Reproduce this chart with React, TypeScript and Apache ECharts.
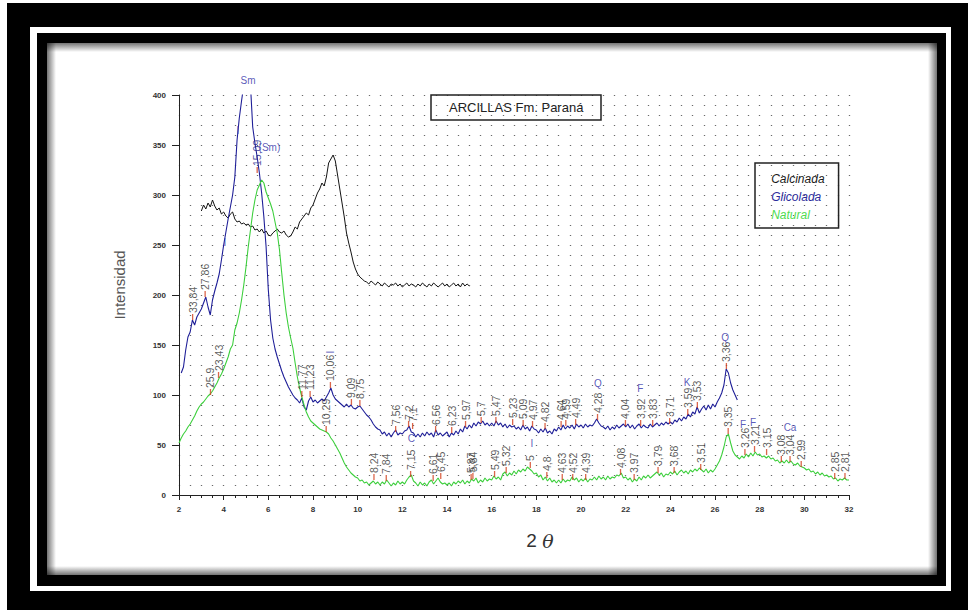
import React, { useEffect, useRef } from 'react';
import * as echarts from 'echarts';

// 2θ scan step and start of each diffractogram
const STEP = 0.1;
const CALCINADA_START = 3.0;
const GLICOLADA_START = 2.1;
const NATURAL_START = 2.0;

// Calcinada (black), 3.0 .. 15.0
const calcinada = [
  284, 290, 286, 292, 288, 295, 289, 285, 287, 281,
  283, 279, 277, 281, 283, 276, 273, 274, 271, 272,
  270, 271, 268, 269, 265, 266, 263, 266, 262, 264,
  260, 259, 262, 264, 266, 263, 262, 264, 260, 258,
  259, 263, 268, 266, 273, 276, 279, 282, 280, 287,
  290, 296, 302, 306, 312, 309, 318, 332, 336, 340,
  334, 320, 306, 292, 278, 262, 252, 243, 233, 226,
  221, 218, 216, 214, 213, 211, 214, 212, 210, 213,
  211, 209, 212, 210, 208, 211, 210, 212, 209, 211,
  208, 210, 212, 209, 211, 210, 208, 211, 209, 212,
  210, 208, 211, 209, 212, 210, 208, 210, 212, 209,
  211, 208, 210, 212, 209, 211, 208, 212, 209, 211,
  209,
];

// Glicolada (blue), 2.1 .. 27.0
const glicolada = [
  122, 128, 145, 158, 163, 175, 170, 178, 182,
  186, 192, 198, 188, 180, 195, 204, 212, 221, 235,
  250, 263, 276, 288, 300, 318, 355, 377, 394, 410,
  420, 418, 410, 368, 352, 338, 322, 302, 278, 248,
  205, 175, 157, 146, 138, 131, 124, 118, 113, 108,
  104, 100, 97, 95, 92, 97, 88, 85, 94, 98,
  93, 95, 92, 94, 96, 94, 98, 102, 107, 100,
  96, 94, 92, 90, 88, 91, 88, 90, 87, 86,
  88, 89, 86, 83, 80, 78, 75, 71, 68, 66,
  65, 61, 63, 59, 62, 58, 62, 65, 60, 62,
  61, 64, 65, 69, 63, 62, 58, 61, 58, 62,
  59, 63, 60, 62, 58, 65, 60, 62, 59, 61,
  63, 58, 62, 60, 64, 61, 66, 63, 69, 66,
  70, 67, 72, 69, 73, 71, 74, 70, 72, 69,
  72, 69, 74, 70, 72, 68, 71, 67, 70, 68,
  69, 66, 68, 65, 70, 66, 68, 64, 69, 66,
  65, 62, 66, 63, 67, 62, 64, 61, 66, 64,
  68, 65, 70, 66, 69, 67, 70, 66, 71, 68,
  70, 67, 71, 68, 70, 69, 72, 76, 72, 69,
  68, 66, 69, 65, 68, 66, 70, 67, 69, 71,
  68, 71, 67, 70, 66, 69, 71, 67, 70, 68,
  67, 71, 68, 70, 72, 69, 72, 70, 73, 71,
  73, 71, 75, 73, 77, 74, 78, 76, 81, 78,
  83, 81, 88, 82, 86, 89, 85, 90, 86, 91,
  88, 93, 97, 102, 110, 126, 122, 112, 105, 100,
  95,
];

// Natural (green), 2.0 .. 32.0
const natural = [
  52, 57, 61, 64, 68, 71, 75, 79, 84, 88,
  91, 93, 96, 99, 101, 104, 108, 112, 117, 121,
  126, 132, 138, 146, 150, 165, 172, 182, 195, 210,
  228, 248, 265, 282, 295, 305, 310, 315, 312, 303,
  297, 291, 284, 273, 262, 245, 222, 200, 182, 168,
  157, 147, 132, 118, 107, 98, 90, 83, 78, 74,
  72, 70, 68, 66, 65, 64, 63, 61, 57, 54,
  50, 46, 42, 37, 32, 28, 25, 22, 20, 18,
  17, 14, 15, 12, 13, 10, 12, 14, 11, 13,
  10, 13, 11, 15, 12, 9, 12, 10, 14, 11,
  13, 11, 15, 18, 20, 14, 12, 9, 13, 10,
  12, 9, 13, 15, 11, 14, 17, 13, 11, 12,
  10, 12, 9, 13, 11, 14, 12, 15, 11, 14,
  12, 16, 14, 17, 12, 15, 13, 17, 14, 16,
  15, 19, 16, 18, 15, 21, 23, 19, 22, 20,
  24, 21, 25, 23, 26, 24, 28, 26, 24, 21,
  22, 18, 20, 15, 18, 14, 17, 13, 15, 12,
  15, 12, 16, 13, 15, 14, 18, 15, 17, 13,
  16, 14, 17, 13, 16, 15, 18, 15, 19, 16,
  18, 15, 19, 16, 18, 17, 20, 19, 22, 17,
  18, 15, 17, 13, 16, 14, 18, 15, 19, 17,
  20, 17, 19, 21, 23, 20, 22, 18, 21, 20,
  23, 21, 24, 20, 23, 25, 22, 24, 21, 25,
  23, 26, 24, 27, 25, 23, 26, 22, 25, 23,
  26, 30, 34, 40, 48, 58, 61, 52, 44, 40,
  38, 36, 39, 37, 41, 38, 42, 39, 43, 40,
  41, 38, 39, 37, 39, 36, 37, 34, 35, 32,
  34, 32, 35, 32, 34, 31, 30, 32, 29, 28,
  27, 25, 26, 23, 24, 21, 23, 20, 22, 19,
  20, 18, 19, 16, 17, 14, 16, 15, 17, 15,
  15,
];

// d-spacing annotations: [2θ, intensity at tick, label]
const glicoladaPeaks: [number, number, string][] = [
  [2.61, 175, '33,84'], [3.17, 198, '27,86'], [7.5, 98, '11,77'], [7.87, 98, '11,23'],
  [8.78, 107, '10,06'], [9.72, 90, '9,09'], [10.1, 89, '8,75'], [11.7, 63, '7,56'],
  [12.28, 68, '7,2'], [12.46, 66, '7,1'], [13.49, 63, '6,56'], [14.21, 62, '6,23'],
  [14.83, 68, '5,97'], [15.53, 72, '5,7'], [16.19, 72, '5,47'], [16.94, 70, '5,23'],
  [17.41, 69, '5,09'], [17.83, 68, '4,97'], [18.39, 66, '4,82'], [19.11, 68, '4,64'],
  [19.32, 69, '4,59'], [19.76, 70, '4,49'], [20.74, 75, '4,28'], [21.99, 69, '4,04'],
  [22.67, 69, '3,92'], [23.21, 69, '3,83'], [23.97, 71, '3,71'], [24.78, 80, '3,59'],
  [25.21, 87, '3,53'], [26.51, 126, '3,36'],
];
const naturalPeaks: [number, number, string][] = [
  [3.41, 100, '25,9'], [3.77, 117, '23,43'], [5.5, 322, '15,09'], [8.59, 63, '10,29'],
  [10.73, 15, '8,24'], [11.28, 14, '7,84'], [12.37, 18, '7,15'], [13.38, 14, '6,61'],
  [13.72, 16, '6,45'], [15.08, 15, '5,87'], [15.16, 16, '5,84'], [16.13, 18, '5,49'],
  [16.65, 22, '5,32'], [17.73, 27, '5'], [18.47, 17, '4,8'], [19.16, 15, '4,63'],
  [19.63, 15, '4,52'], [20.21, 15, '4,39'], [21.77, 20, '4,08'], [22.38, 15, '3,97'],
  [23.45, 22, '3,79'], [24.17, 22, '3,68'], [25.36, 25, '3,51'], [26.59, 61, '3,35'],
  [27.34, 40, '3,26'], [27.77, 43, '3,21'], [28.31, 40, '3,15'], [28.97, 33, '3,08'],
  [29.36, 33, '3,04'], [29.86, 28, '2,99'], [31.36, 16, '2,85'], [31.82, 16, '2,81'],
];
// mineral letters: [2θ, intensity, text, rotated]
const minerals: [number, number, string, boolean][] = [
  [5.09, 415, 'Sm', false], [6.05, 348, '(Sm)', false], [4.64, 365, 'I', false],
  [4.06, 253, 'I', false], [8.78, 143, 'I', true], [12.4, 57, 'C', false],
  [17.8, 52, 'I', false], [20.76, 112, 'Q', false], [22.65, 107, 'F', false],
  [24.75, 113, 'K', false], [26.45, 158, 'Q', false], [27.26, 71, 'F', false],
  [27.7, 73, 'F', false], [29.36, 68, 'Ca', false],
];

const COLORS = { calcinada: '#141414', glicolada: '#1f1f98', natural: '#3ccf3c' };

const toPairs = (start: number, vals: number[]) =>
  vals.map((v, i) => [Math.round((start + i * STEP) * 100) / 100, v]);

const FONT = 'Liberation Sans, Arial, sans-serif';

function frame() {
  const shade = (x: number, y: number, w: number, h: number, dir: number[]) => ({
    type: 'rect', z: -5, silent: true,
    shape: { x, y, width: w, height: h },
    style: {
      fill: new echarts.graphic.LinearGradient(dir[0], dir[1], dir[2], dir[3], [
        { offset: 0, color: 'rgba(0,0,0,0.55)' },
        { offset: 1, color: 'rgba(0,0,0,0)' },
      ]),
    },
  });
  return [
    { type: 'rect', z: -10, silent: true, shape: { x: 7, y: 3, width: 961, height: 607 }, style: { fill: '#000' } },
    { type: 'rect', z: -9, silent: true, shape: { x: 30, y: 27, width: 921, height: 564 }, style: { fill: '#fff' } },
    { type: 'rect', z: -8, silent: true, shape: { x: 37, y: 33, width: 909, height: 553 }, style: { fill: '#000' } },
    { type: 'rect', z: -7, silent: true, shape: { x: 47, y: 43, width: 890, height: 532 }, style: { fill: '#fff' } },
    shade(47, 43, 890, 9, [0, 0, 0, 1]),
    shade(47, 43, 9, 532, [0, 0, 1, 0]),
    shade(47, 566, 890, 9, [0, 1, 0, 0]),
    shade(928, 43, 9, 532, [1, 0, 0, 0]),
  ];
}

export default function App() {
  const ref = useRef<HTMLDivElement>(null);
  useEffect(() => {
    if (!ref.current) return;
    const chart = echarts.init(ref.current, null, { renderer: 'svg' });
    const dotted = { color: '#6a6a6a', width: 1.3, type: [1, 9] as number[] };
    const markData = [
      ...glicoladaPeaks.map((p) => ({ value: [p[0], p[1], p[2]] })),
      ...naturalPeaks.map((p) => ({
        value: [p[0], p[1], p[2]],
        label: p[2] === '15,09' ? { color: '#2a2a8a' } : undefined,
      })),
    ];
    const option: any = {
      animation: false,
      backgroundColor: 'transparent',
      textStyle: { fontFamily: FONT },
      graphic: { elements: frame() },
      title: {
        text: 'ARCILLAS Fm. Paraná',
        left: 431, top: 95, padding: [6, 18],
        borderColor: '#222', borderWidth: 1.5,
        textStyle: { fontSize: 13, fontWeight: 'normal', color: '#222', fontFamily: FONT },
      },
      legend: {
        data: [
          { name: 'Calcinada', textStyle: { color: '#1a1a1a' } },
          { name: 'Glicolada', textStyle: { color: '#2c2c9c' } },
          { name: 'Natural', textStyle: { color: '#4fdc4f' } },
        ],
        orient: 'vertical', left: 755, top: 163,
        padding: [10, 14, 7, 6], itemWidth: 0, itemHeight: 13, itemGap: 6,
        borderColor: '#222', borderWidth: 1.5, selectedMode: false,
        itemStyle: { opacity: 0 }, lineStyle: { opacity: 0 },
        textStyle: { fontSize: 12, fontStyle: 'italic', fontFamily: FONT },
      },
      grid: { left: 179, right: 119, top: 95, bottom: 115, containLabel: false, outerBoundsMode: 'none' },
      xAxis: {
        type: 'value', min: 2, max: 32, interval: 2,
        name: '2 {t|θ}', nameLocation: 'middle', nameGap: 36,
        nameTextStyle: {
          fontSize: 19, color: '#333', padding: [0, 0, 0, 52], fontFamily: FONT,
          rich: { t: { fontSize: 19, fontStyle: 'italic', color: '#333', fontFamily: 'DejaVu Serif' } },
        },
        axisLine: { onZero: false, lineStyle: { color: '#222', width: 1 } },
        axisTick: { length: 5, lineStyle: { color: '#222' } },
        minorTick: { show: true, splitNumber: 4, length: 3, lineStyle: { color: '#222' } },
        axisLabel: { fontSize: 8, fontWeight: 'bold', color: '#333', margin: 10, fontFamily: FONT },
        splitLine: { show: true, lineStyle: dotted },
        minorSplitLine: { show: true, lineStyle: dotted },
      },
      yAxis: {
        type: 'value', min: 0, max: 400, interval: 50,
        name: 'Intensidad', nameLocation: 'middle', nameGap: 52,
        nameTextStyle: { fontSize: 15, color: '#555', padding: [0, 0, 0, 20], fontFamily: FONT },
        axisLine: { show: true, lineStyle: { color: '#222', width: 1 } },
        axisTick: { show: true, length: 7, lineStyle: { color: '#222' } },
        axisLabel: { fontSize: 8, fontWeight: 'bold', color: '#333', margin: 13, fontFamily: FONT },
        splitLine: { show: false },
      },
      series: [
        {
          name: 'Calcinada', type: 'line', showSymbol: false, symbol: 'none',
          data: toPairs(CALCINADA_START, calcinada),
          lineStyle: { color: COLORS.calcinada, width: 1 }, itemStyle: { color: COLORS.calcinada },
        },
        {
          name: 'Glicolada', type: 'line', showSymbol: false, symbol: 'none',
          data: toPairs(GLICOLADA_START, glicolada),
          lineStyle: { color: COLORS.glicolada, width: 1.1 }, itemStyle: { color: COLORS.glicolada },
        },
        {
          name: 'Natural', type: 'line', showSymbol: false, symbol: 'none',
          data: toPairs(NATURAL_START, natural),
          lineStyle: { color: COLORS.natural, width: 1.1 }, itemStyle: { color: COLORS.natural },
        },
        {
          name: 'picos', type: 'scatter', clip: false, z: 4,
          symbol: 'rect', symbolSize: [1.3, 6], symbolOffset: [0, -3],
          itemStyle: { color: '#d2401e' },
          label: {
            show: true, position: 'top', distance: 1, rotate: 90,
            align: 'left', verticalAlign: 'middle',
            fontSize: 10.5, color: '#333', fontFamily: FONT,
            formatter: (p: any) => p.value[2],
          },
          data: markData,
        },
        {
          name: 'minerales', type: 'scatter', clip: false, z: 4,
          symbol: 'circle', symbolSize: 1, itemStyle: { color: 'rgba(0,0,0,0)' },
          label: {
            show: true, position: 'inside', fontSize: 10, color: '#3030a8', fontFamily: FONT,
            formatter: (p: any) => p.value[2],
          },
          data: minerals.map((m) => ({
            value: [m[0], m[1], m[2]],
            label: m[3] ? { rotate: 90 } : undefined,
          })),
        },
      ],
    };
    chart.setOption(option);
    return () => chart.dispose();
  }, []);
  return (
    <div style={{ position: 'fixed', left: 0, top: 0, width: 968, height: 610, background: '#fff' }}>
      <div ref={ref} style={{ width: 968, height: 610 }} />
    </div>
  );
}
